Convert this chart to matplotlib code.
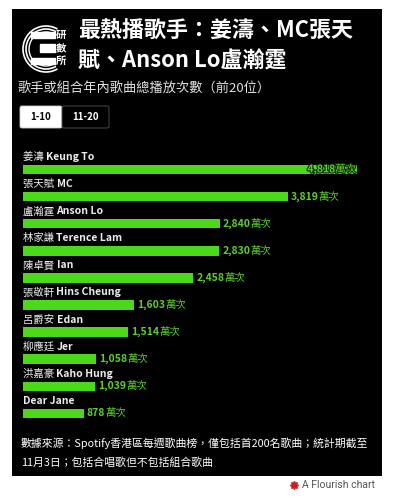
import numpy as np
import matplotlib.pyplot as plt
from matplotlib.patches import Rectangle, Arc, FancyBboxPatch
import matplotlib.patheffects as pe

plt.rcParams['font.family'] = ['Noto Sans CJK TC', 'DejaVu Sans']

# data
names_zh = ['姜濤', '張天賦', '盧瀚霆', '林家謙', '陳卓賢', '張敬軒', '呂爵安', '柳應廷', '洪嘉豪', '']
names_en = ['Keung To', 'MC', 'Anson Lo', 'Terence Lam', 'Ian', 'Hins Cheung', 'Edan', 'Jer', 'Kaho Hung', 'Dear Jane']
plays = [4818, 3819, 2840, 2830, 2458, 1603, 1514, 1058, 1039, 878]
unit = '萬次'

green = '#4cd91a'
label_green = '#5ccf2c'

W, H = 393, 500
fig = plt.figure(figsize=(W / 100, H / 100), dpi=100)
fig.patch.set_facecolor('white')

# black panel behind everything
fig.patches.append(Rectangle((12 / W, 1 - 476 / H), 370 / W, 467 / H, transform=fig.transFigure,
                             facecolor='black', edgecolor='none', zorder=-1))

# bars
y = np.arange(len(plays))
ax = fig.add_axes([23 / W, 1 - 440.5 / H, (369.6 - 23) / W, (440.5 - 142.4) / H])
ax.set_xlim(0, 5000)
ax.set_ylim(10, -1)
ax.axis('off')
ax.patch.set_alpha(0)
ax.barh(y, plays, height=0.35, color=green)
ax.set_zorder(0)

# overlay axes in pixel coordinates for all text
bg = fig.add_axes([0, 0, 1, 1])
bg.set_xlim(0, W)
bg.set_ylim(H, 0)
bg.axis('off')
bg.patch.set_alpha(0)
bg.set_zorder(1)

# logo
for r, lw in [(23, 1.2), (20, 1.2), (17, 1.0)]:
    bg.add_patch(Arc((46, 49), 2 * r, 2 * r, theta1=60, theta2=300, color='white', lw=lw))
bg.add_patch(Rectangle((31, 32), 24, 6, color='white'))
bg.add_patch(Rectangle((40, 44), 15, 8, color='white'))
bg.add_patch(Rectangle((31, 58), 24, 6, color='white'))
for yy, ch in zip([35, 48, 61], ['研', '數', '所']):
    bg.text(61, yy, ch, color='white', fontsize=7.5, fontweight='bold', ha='center', va='center')

# title
bg.text(78, 31, '最熱播歌手：姜濤、MC張天', color='white', fontsize=15.8, fontweight='bold', va='center')
bg.text(78, 61, '賦、Anson Lo盧瀚霆', color='white', fontsize=15.8, fontweight='bold', va='center')
bg.text(18, 88, '歌手或組合年內歌曲總播放次數（前20位）', color='#e0e0e0', fontsize=9.5, va='center')

# buttons
bg.add_patch(FancyBboxPatch((20, 106), 42, 22, boxstyle='round,pad=0,rounding_size=2',
                            facecolor='white', edgecolor='#cccccc', lw=0.6))
bg.add_patch(FancyBboxPatch((62, 106), 47, 22, boxstyle='round,pad=0,rounding_size=2',
                            facecolor='black', edgecolor='#555555', lw=0.6))
bg.text(41, 117, '1-10', color='black', fontsize=7, fontweight='bold', ha='center', va='center')
bg.text(85.5, 117, '11-20', color='white', fontsize=7, fontweight='bold', ha='center', va='center')

renderer = fig.canvas.get_renderer()


def text_width(t):
    return t.get_window_extent(renderer).width


def two_part(x, yy, a, b, size, color, wa, wb, ha='left', stroke=False):
    kw = dict(fontsize=size, color=color, va='center', zorder=5)
    t1 = bg.text(x, yy, a, fontweight=wa, **kw)
    t2 = bg.text(x, yy, b, fontweight=wb, **kw)
    w1, w2 = text_width(t1), text_width(t2)
    if ha == 'right':
        t1.set_x(x - w1 - w2)
        t2.set_x(x - w2)
    else:
        t2.set_x(x + w1)
    if stroke:
        for t in (t1, t2):
            t.set_path_effects([pe.withStroke(linewidth=1.6, foreground='#0d2a05')])


for i, v in enumerate(plays):
    px, py = ax.transData.transform((v, i))
    py = H - py
    # name label
    zh = names_zh[i] + ' ' if names_zh[i] else ''
    two_part(23, py - 12.5, zh, names_en[i], 7.5, '#ececec', 'normal', 'bold')
    # value label
    if i == 0:
        two_part(px - 1, py, f'{v:,}', unit, 7.5, label_green, 'bold', 'normal', ha='right', stroke=True)
    else:
        two_part(px + 3, py, f'{v:,}', unit, 7.5, label_green, 'bold', 'normal')

# footer
bg.text(21, 443, '數據來源：Spotify香港區每週歌曲榜，僅包括首200名歌曲；統計期截至',
        color='white', fontsize=7.8, va='center')
bg.text(21, 463, '11月3日；包括合唱歌但不包括組合歌曲', color='white', fontsize=7.8, va='center')

# credit
bg.plot([294], [485], marker=(8, 1, 0), ms=6, color='#c8202a')
bg.text(302, 485, 'A Flourish chart', color='#555555', fontsize=7.5, va='center',
        family=['Roboto', 'DejaVu Sans'])

fig.savefig('out.png', dpi=100, facecolor='white')
